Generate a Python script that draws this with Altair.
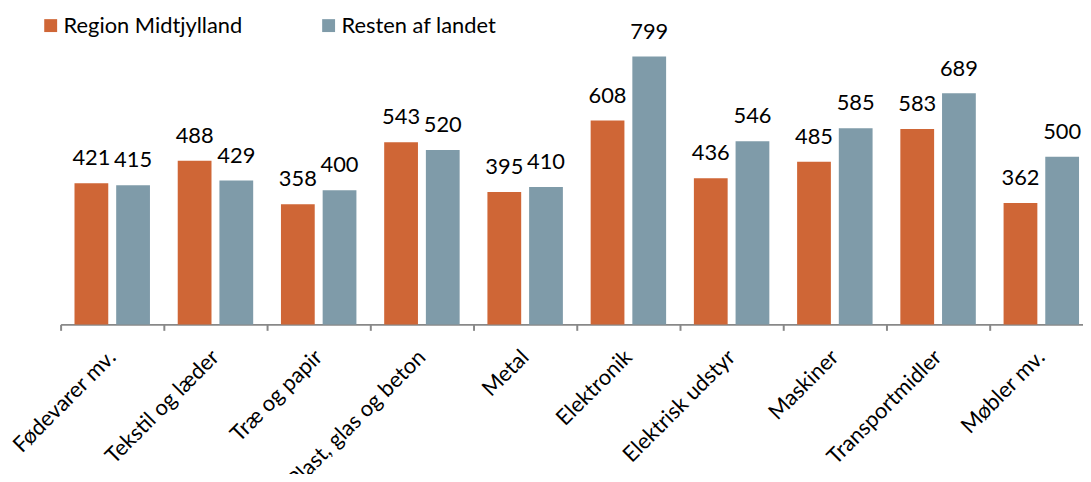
import altair as alt
import pandas as pd

categories = ["Fødevarer mv.", "Tekstil og læder", "Træ og papir", "Plast, glas og beton",
              "Metal", "Elektronik", "Elektrisk udstyr", "Maskiner", "Transportmidler", "Møbler mv."]
series = ["Region Midtjylland", "Resten af landet"]
midtjylland = [421, 488, 358, 543, 395, 608, 436, 485, 583, 362]
resten = [415, 429, 400, 520, 410, 799, 546, 585, 689, 500]
colors = ["#CF6636", "#7F9BA9"]

rows = []
for c, a, b in zip(categories, midtjylland, resten):
    rows.append({"Kategori": c, "Serie": series[0], "Værdi": a})
    rows.append({"Kategori": c, "Serie": series[1], "Værdi": b})
df = pd.DataFrame(rows)

FONT = "Lato"
FS = 22

x = alt.X("Kategori:N", sort=categories, title=None,
          scale=alt.Scale(range=[0, 1040], paddingInner=0, paddingOuter=0),
          axis=alt.Axis(labelAngle=-45, labelAlign="right", labelBaseline="middle",
                        labelFontSize=FS, labelFont=FONT, labelColor="#000000",
                        labelPadding=23, domainColor="#888888", domainWidth=2,
                        tickColor="#888888", tickWidth=2, tickSize=6, bandPosition=0,
                        grid=False, labelOverlap=False, labelLimit=300))
xo = alt.XOffset("Serie:N", sort=series,
                 scale=alt.Scale(paddingInner=0.19, paddingOuter=0.333))
y = alt.Y("Værdi:Q", scale=alt.Scale(domain=[0, 900]), axis=None)

bars = alt.Chart(df).mark_bar().encode(
    x=x, xOffset=xo, y=y,
    color=alt.Color("Serie:N", sort=series,
                    scale=alt.Scale(domain=series, range=colors),
                    legend=alt.Legend(title=None, orient="none", legendX=-21, legendY=-8,
                                      direction="horizontal", symbolType="square",
                                      symbolSize=169, symbolStrokeWidth=0,
                                      labelFontSize=FS, labelFont=FONT, labelColor="#000000",
                                      labelOffset=2, columnPadding=75, padding=0,
                                      labelLimit=300)),
)

labels = alt.Chart(df).mark_text(baseline="alphabetic", dy=-18, fontSize=FS,
                                 font=FONT, color="#000000").encode(
    x=x, xOffset=xo, y=y, text=alt.Text("Værdi:Q"),
)

chart = alt.layer(bars, labels).properties(
    width=1030, height=304,
    autosize=alt.AutoSizeParams(type="none"),
    padding={"left": 53, "top": 13, "right": 0, "bottom": 149},
).configure_view(stroke=None)

chart.save("out.html", embed_options={"renderer": "svg", "actions": False})
